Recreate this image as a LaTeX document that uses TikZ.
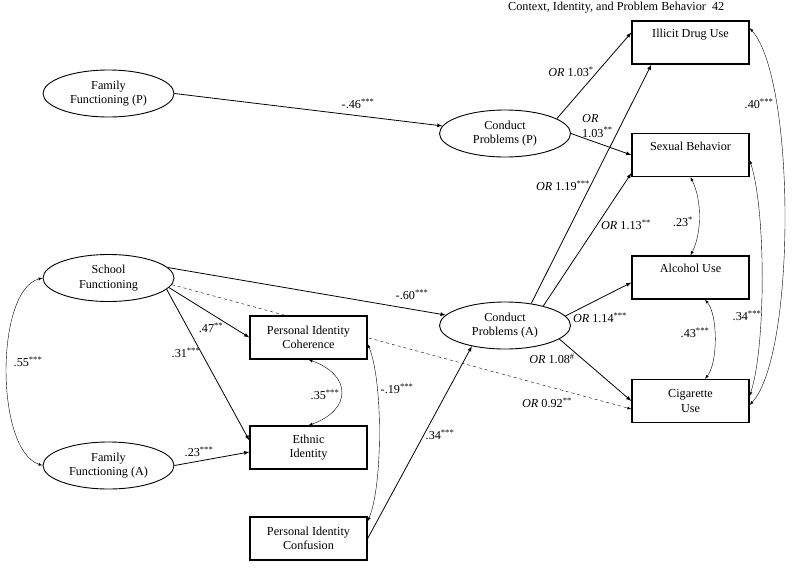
\documentclass[tikz,border=0pt]{standalone}
\usepackage{fontspec}
\setmainfont{Liberation Serif}
\usetikzlibrary{shapes.geometric,backgrounds}

\begin{document}
\begin{tikzpicture}[>=latex, x=1pt, y=-1pt, line width=.8pt,
  font=\fontsize{12.2}{14.5}\selectfont,
  latent/.style={ellipse, draw, line width=.9pt, fill=white, minimum width=131pt, minimum height=47pt, inner sep=0pt, align=center},
  obs/.style={rectangle, draw, line width=1.3pt, fill=white, minimum width=117pt, minimum height=43pt, inner sep=2pt, align=center},
  outcome/.style={obs, text height=9pt, text depth=19pt},
  coef/.style={inner sep=1pt}]
\useasboundingbox (0,0) rectangle (800,568);

\node[anchor=east] (title) at (728,8) {Context, Identity, and Problem Behavior\ \ 42};

% latent constructs
\node[latent] (ffp) at (108.5,93.5) {Family\\Functioning (P)};
\node[latent] (school) at (108.5,278) {School\\Functioning};
\node[latent] (ffa) at (108.5,465.5) {Family\\Functioning (A)};
\node[latent] (cpp) at (505,133.5) {Conduct\\Problems (P)};
\node[latent] (cpa) at (505,325.5) {Conduct\\Problems (A)};

% identity
\node[obs] (pic) at (308.5,337.5) {Personal Identity\\Coherence};
\node[obs] (ethnic) at (308.5,447.5) {Ethnic\\Identity};
\node[obs] (piconf) at (308.5,538.5) {Personal Identity\\Confusion};

% outcomes
\node[outcome] (drug) at (690.5,42.5) {Illicit Drug Use};
\node[outcome] (sex) at (690.5,155) {Sexual Behavior};
\node[outcome] (alcohol) at (690.5,277.5) {Alcohol Use};
\node[obs] (cig) at (690.5,401) {Cigarette\\Use};

% paths
\draw[->] (ffp.east) -- (cpp);
\draw[->] (cpp.16) -- ([yshift=10pt]drug.west);
\draw[->] (cpp.east) -- (sex.west);
\draw[->] (cpa.40) -- ([xshift=20pt]drug.south west);
\draw[->] (cpa.27) -- ([yshift=4pt]sex.south west);
\draw[->] (cpa.9) -- ([yshift=-5pt]alcohol.west);
\draw[->] (cpa.-14) -- (cig.west);
\draw[->] (school.10) -- (cpa.170);
\draw[->] (school.-9) -- (pic.west);
\draw[->] (school.-11) -- ([yshift=7pt]ethnic.west);
\draw[->] (ffa.east) -- ([yshift=-4.5pt]ethnic.west);
\draw[->] (piconf.east) -- (cpa.212);
\begin{pgfonlayer}{background}
\draw[->, dashed] (school.-6) -- ([yshift=-8pt]cig.west);
\end{pgfonlayer}

% covariances
\draw[<->] (school.west) .. controls (-5,290) and (-5,450) .. (ffa.west);
\draw[<->] (pic.south) .. controls (352,375) and (352,410) .. (ethnic.north);
\draw[<->] ([yshift=-6.5pt]pic.east) .. controls (383,380) and (383,485) .. ([yshift=-5pt]piconf.north east);
\draw[<->] (sex.south) .. controls (702,200) and (702,233) .. (alcohol.north);
\draw[<->] ([xshift=14.5pt]alcohol.south) .. controls (718,315) and (718,363) .. ([xshift=14.5pt]cig.north);
\draw[<->] ([yshift=-5pt]sex.east) .. controls (766,210) and (766,346) .. ([yshift=5pt]cig.east);
\draw[<->] ([yshift=14.5pt]drug.east) .. controls (796,80) and (796,355) .. ([yshift=-4pt]cig.east);

% coefficients
\node[coef] (c46) at (358,104) {-.46\textsuperscript{***}};
\node[coef] (c60) at (412,295) {-.60\textsuperscript{***}};
\node[coef] (c47) at (211,328) {.47\textsuperscript{**}};
\node[coef] (c31) at (186,353) {.31\textsuperscript{***}};
\node[coef] (c23a) at (199,452) {.23\textsuperscript{***}};
\node[coef] (c34a) at (440,435) {.34\textsuperscript{***}};
\node[coef] (c55) at (28,362) {.55\textsuperscript{***}};
\node[coef] (c35) at (325,395) {.35\textsuperscript{***}};
\node[coef] (c19) at (397,389) {-.19\textsuperscript{***}};
\node[coef] (c23b) at (683,222) {.23\textsuperscript{*}};
\node[coef] (c43) at (695,333) {.43\textsuperscript{***}};
\node[coef] (c34b) at (747,316) {.34\textsuperscript{***}};
\node[coef] (c40) at (759,104) {.40\textsuperscript{***}};
\node[coef] (or1) at (571,72) {\textit{OR} 1.03\textsuperscript{*}};
\node[coef, anchor=west, align=left] (or2) at (581,126) {\textit{OR}\\1.03\textsuperscript{**}};
\node[coef] (or3) at (563,186) {\textit{OR} 1.19\textsuperscript{***}};
\node[coef] (or4) at (626,225) {\textit{OR} 1.13\textsuperscript{**}};
\node[coef] (or5) at (600,318) {\textit{OR} 1.14\textsuperscript{***}};
\node[coef] (or6) at (552,359) {\textit{OR} 1.08\textsuperscript{\#}};
\node[coef] (or7) at (547,403) {\textit{OR} 0.92\textsuperscript{**}};
\end{tikzpicture}
\end{document}
